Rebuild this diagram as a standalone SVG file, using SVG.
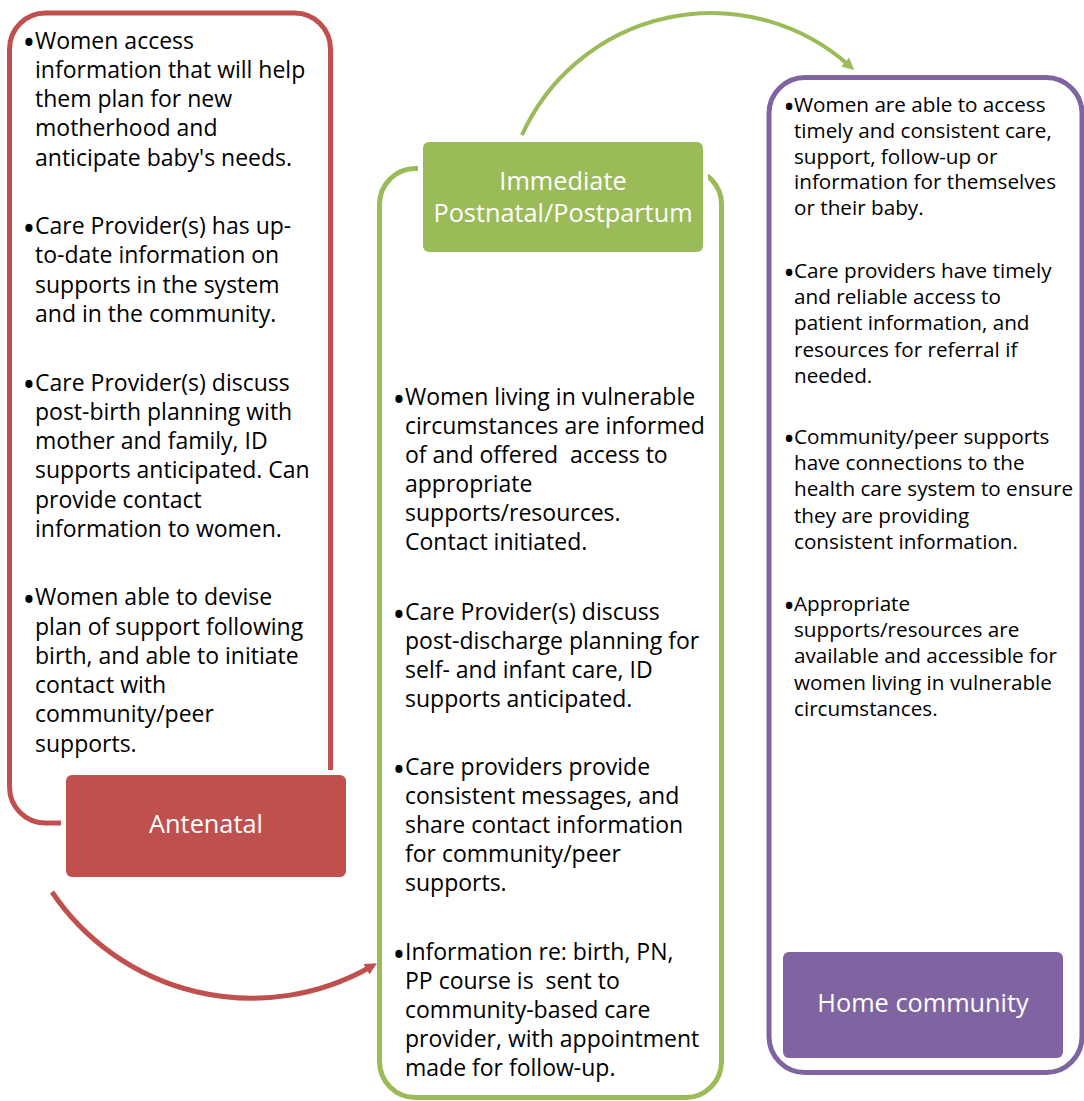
<svg xmlns="http://www.w3.org/2000/svg" width="1084" height="1101" viewBox="0 0 1084 1101">
<style>
.bg{fill:#ffffff}
.outer{fill:none;stroke-width:5}
.lbl{stroke:#ffffff;stroke-width:10;paint-order:stroke}
.t{font-family:"Open Sans","Liberation Sans",sans-serif;font-size:23px;fill:#000000}
.tr{font-family:"Open Sans","Liberation Sans",sans-serif;font-size:20.7px;fill:#000000}
.lt{font-family:"Open Sans","Liberation Sans",sans-serif;font-size:25.3px;fill:#ffffff;text-anchor:middle}
.b{text-anchor:middle;font-size:34px}
.tr .b{font-size:31px}
.red{stroke:#C0504D}
.green{stroke:#9BBB59}
.purple{stroke:#8064A2}
.conn{fill:none}
</style>
<defs>
<marker id="ahR" markerUnits="userSpaceOnUse" viewBox="0 0 12 12" markerWidth="12" markerHeight="12" refX="4" refY="6" orient="auto">
<path d="M0,0 L12,6 L0,12 z" fill="#C0504D"/>
</marker>
<marker id="ahG" markerUnits="userSpaceOnUse" viewBox="0 0 12 12" markerWidth="12" markerHeight="12" refX="4" refY="6" orient="auto">
<path d="M0,0 L12,6 L0,12 z" fill="#9BBB59"/>
</marker>
</defs>
<rect class="bg" x="0" y="0" width="1084" height="1101"/>

<g id="antenatal">
<rect class="outer red" x="9.5" y="13" width="321" height="810" rx="36"/>
<rect class="lbl" x="66" y="775" width="280" height="102" rx="6" fill="#C0504D"/>
<text class="lt" x="206" y="833">Antenatal</text>
<text class="t" xml:space="preserve"><tspan class="b" x="29" y="55">•</tspan><tspan x="35" y="48.5">Women access</tspan><tspan x="35" y="77.75">information that will help</tspan><tspan x="35" y="107">them plan for new</tspan><tspan x="35" y="136.25">motherhood and</tspan><tspan x="35" y="165.5">anticipate baby's needs.</tspan></text>
<text class="t"><tspan class="b" x="29" y="240.5">•</tspan><tspan x="35" y="234">Care Provider(s) has up-</tspan><tspan x="35" y="263.25">to-date information on</tspan><tspan x="35" y="292.5">supports in the system</tspan><tspan x="35" y="321.75">and in the community.</tspan></text>
<text class="t"><tspan class="b" x="29" y="397">•</tspan><tspan x="35" y="390.5">Care Provider(s) discuss</tspan><tspan x="35" y="419.75">post-birth planning with</tspan><tspan x="35" y="449">mother and family, ID</tspan><tspan x="35" y="478.25">supports anticipated. Can</tspan><tspan x="35" y="507.5">provide contact</tspan><tspan x="35" y="536.75">information to women.</tspan></text>
<text class="t"><tspan class="b" x="29" y="611.75">•</tspan><tspan x="35" y="605.25">Women able to devise</tspan><tspan x="35" y="634.5">plan of support following</tspan><tspan x="35" y="663.75">birth, and able to initiate</tspan><tspan x="35" y="693">contact with</tspan><tspan x="35" y="722.25">community/peer</tspan><tspan x="35" y="751.5">supports.</tspan></text>
</g>

<g id="postnatal">
<rect class="outer green" x="379.5" y="168.5" width="342" height="929" rx="36"/>
<rect class="lbl" x="423" y="142" width="280" height="110" rx="6" fill="#9BBB59"/>
<text class="lt"><tspan x="563" y="190">Immediate</tspan><tspan x="563" y="222">Postnatal/Postpartum</tspan></text>
<text class="t" xml:space="preserve"><tspan class="b" x="399" y="411.5">•</tspan><tspan x="405" y="405">Women living in vulnerable</tspan><tspan x="405" y="434">circumstances are informed</tspan><tspan x="405" y="463">of and offered  access to</tspan><tspan x="405" y="492">appropriate</tspan><tspan x="405" y="521">supports/resources.</tspan><tspan x="405" y="550">Contact initiated.</tspan></text>
<text class="t"><tspan class="b" x="399" y="626.5">•</tspan><tspan x="405" y="620">Care Provider(s) discuss</tspan><tspan x="405" y="649">post-discharge planning for</tspan><tspan x="405" y="678">self- and infant care, ID</tspan><tspan x="405" y="707">supports anticipated.</tspan></text>
<text class="t"><tspan class="b" x="399" y="781.5">•</tspan><tspan x="405" y="775">Care providers provide</tspan><tspan x="405" y="804">consistent messages, and</tspan><tspan x="405" y="833">share contact information</tspan><tspan x="405" y="862">for community/peer</tspan><tspan x="405" y="891">supports.</tspan></text>
<text class="t" xml:space="preserve"><tspan class="b" x="399" y="966.5">•</tspan><tspan x="405" y="960">Information re: birth, PN,</tspan><tspan x="405" y="989">PP course is  sent to</tspan><tspan x="405" y="1018">community-based care</tspan><tspan x="405" y="1047">provider, with appointment</tspan><tspan x="405" y="1076">made for follow-up.</tspan></text>
</g>

<g id="home">
<rect class="outer purple" x="769" y="77.5" width="313" height="995" rx="36"/>
<rect class="lbl" x="783" y="952" width="280" height="106" rx="6" fill="#8064A2"/>
<text class="lt" x="923" y="1012">Home community</text>
<text class="tr"><tspan class="b" x="789" y="118">•</tspan><tspan x="794" y="112">Women are able to access</tspan><tspan x="794" y="137.8">timely and consistent care,</tspan><tspan x="794" y="163.6">support, follow-up or</tspan><tspan x="794" y="189.4">information for themselves</tspan><tspan x="794" y="215.2">or their baby.</tspan></text>
<text class="tr"><tspan class="b" x="789" y="284">•</tspan><tspan x="794" y="278">Care providers have timely</tspan><tspan x="794" y="304.2">and reliable access to</tspan><tspan x="794" y="330.4">patient information, and</tspan><tspan x="794" y="356.6">resources for referral if</tspan><tspan x="794" y="382.8">needed.</tspan></text>
<text class="tr"><tspan class="b" x="789" y="450">•</tspan><tspan x="794" y="444">Community/peer supports</tspan><tspan x="794" y="470.2">have connections to the</tspan><tspan x="794" y="496.4">health care system to ensure</tspan><tspan x="794" y="522.6">they are providing</tspan><tspan x="794" y="548.8">consistent information.</tspan></text>
<text class="tr"><tspan class="b" x="789" y="617">•</tspan><tspan x="794" y="611">Appropriate</tspan><tspan x="794" y="637.2">supports/resources are</tspan><tspan x="794" y="663.4">available and accessible for</tspan><tspan x="794" y="689.6">women living in vulnerable</tspan><tspan x="794" y="715.8">circumstances.</tspan></text>
</g>

<g id="connectors">
<path class="conn red" stroke-width="5" d="M52,892 A241,241 0 0 0 370,967.2" marker-end="url(#ahR)"/>
<path class="conn green" stroke-width="4" d="M522,135 A207.6,207.6 0 0 1 848.2,64.7" marker-end="url(#ahG)"/>
</g>
</svg>
